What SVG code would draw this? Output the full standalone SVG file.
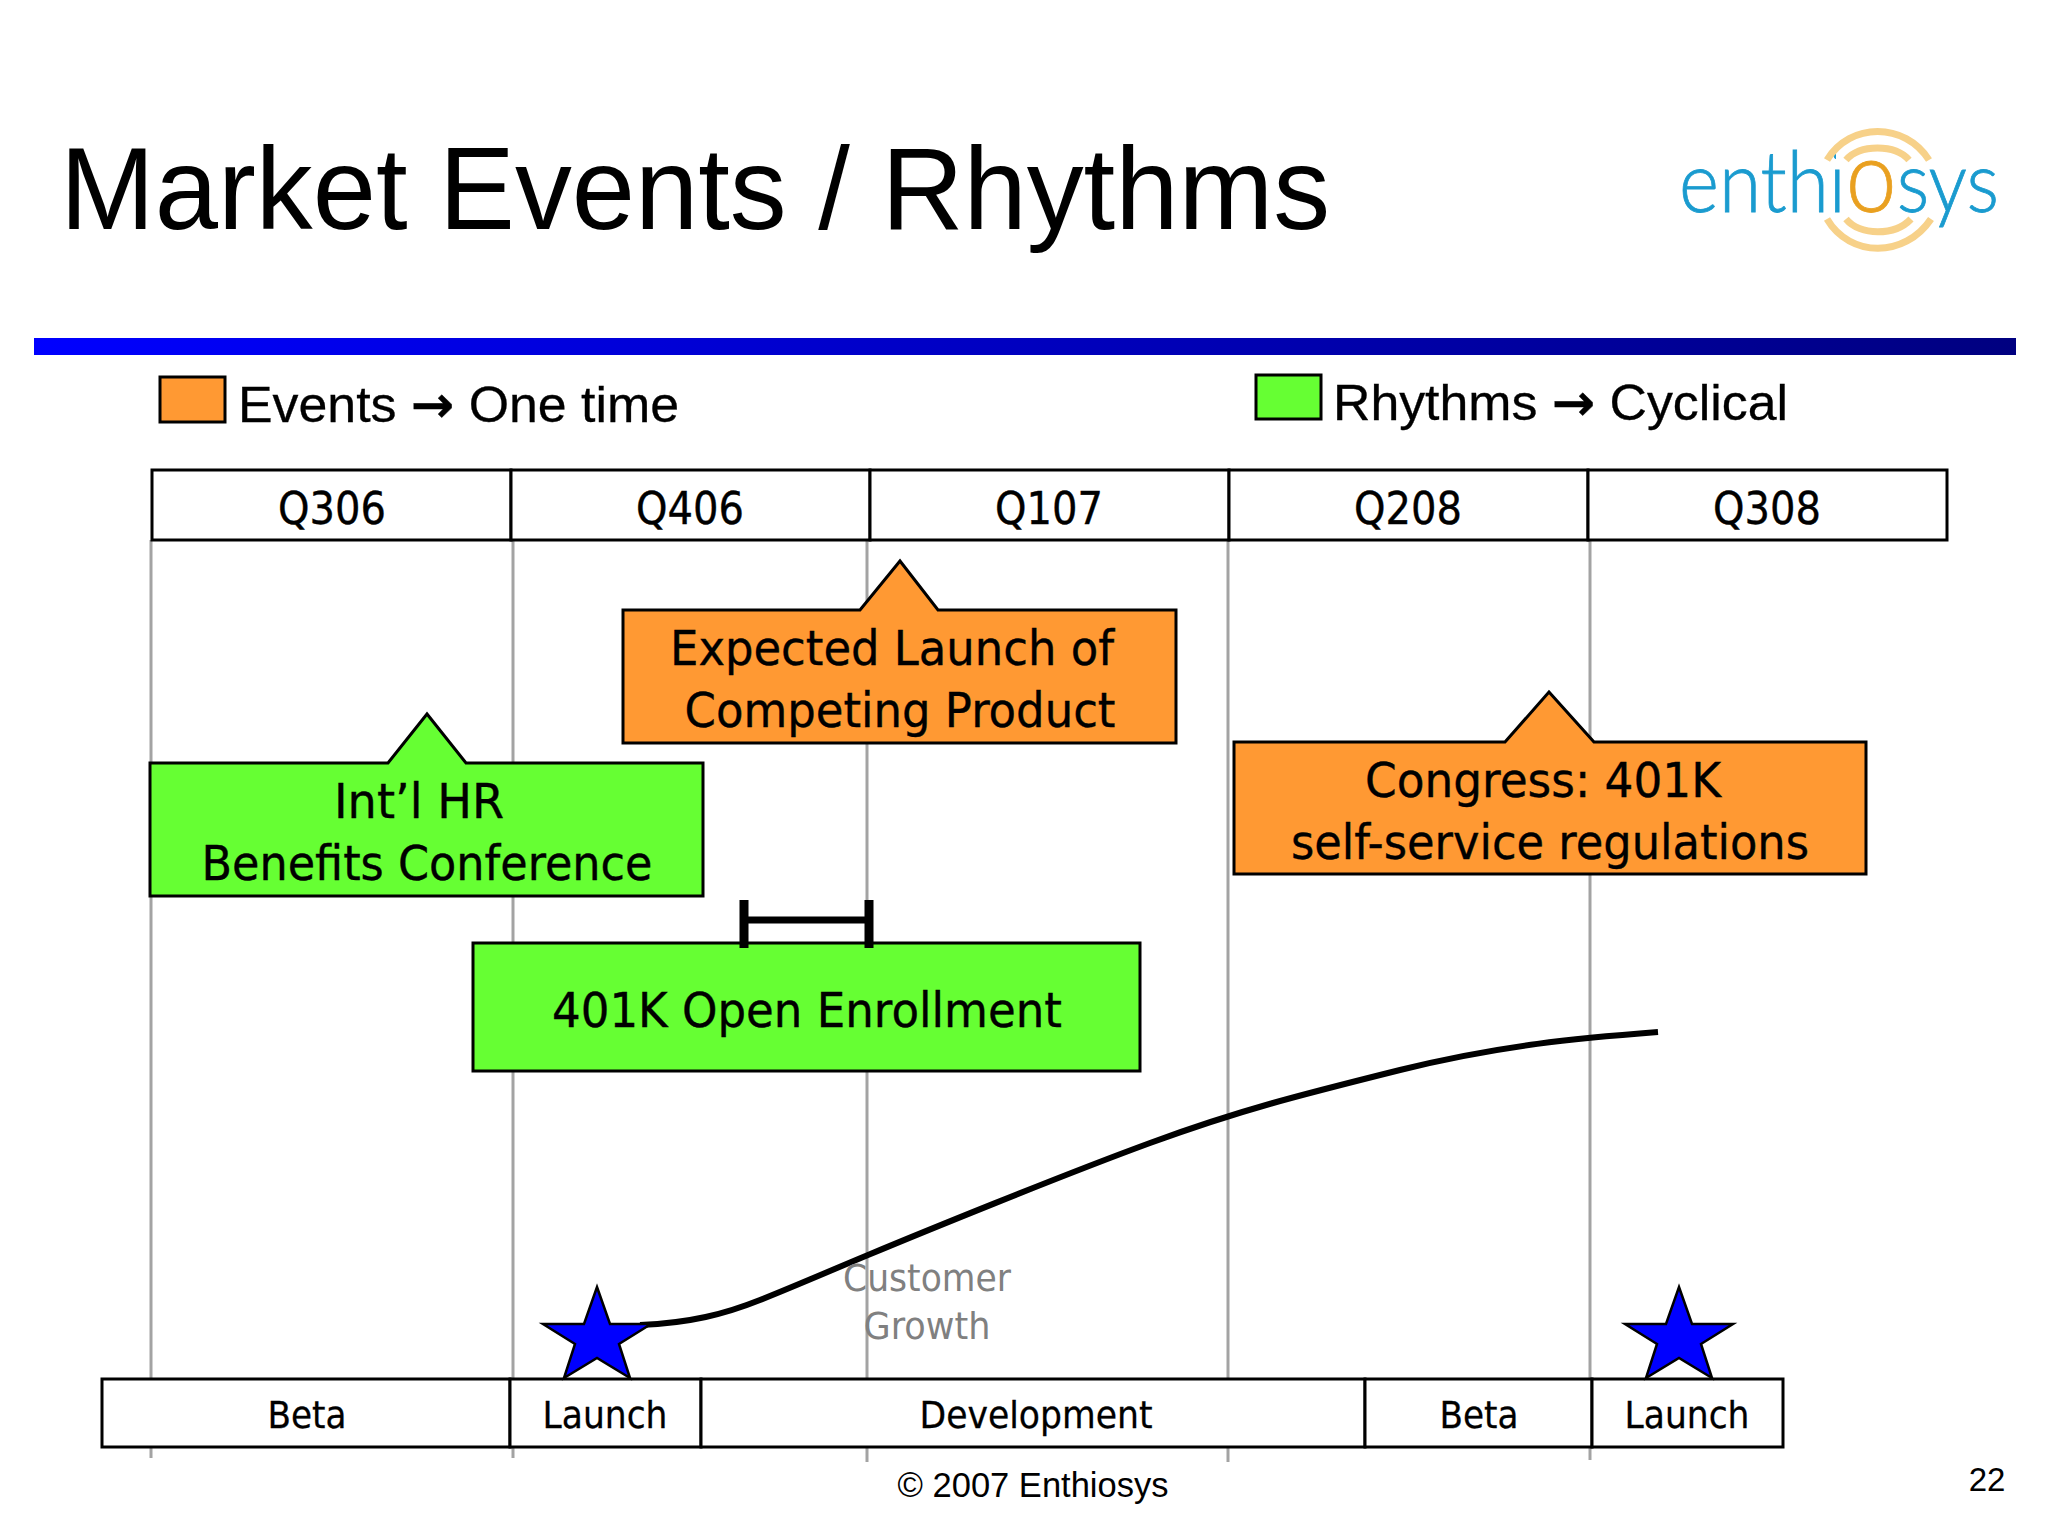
<svg xmlns="http://www.w3.org/2000/svg" width="2048" height="1536" viewBox="0 0 2048 1536">
<style>
text{font-family:"DejaVu Sans",Tahoma,sans-serif;fill:#000;text-anchor:middle}
.sans{font-family:"Liberation Sans",Arial,sans-serif}
.grid{stroke:#a3a3a3;stroke-width:3;fill:none}
.box{fill:#fff;stroke:#000;stroke-width:3}
.orange{fill:#ff9933;stroke:#000;stroke-width:3}
.green{fill:#66ff33;stroke:#000;stroke-width:3}
.star{fill:#0000ff;stroke:#000;stroke-width:2.5}
.t48{font-size:48px;stroke:#000;stroke-width:.4}
.t44{font-size:44px;stroke:#000;stroke-width:.4}
.t38{font-size:38px;stroke:#000;stroke-width:.3}
.legend{font-family:"Liberation Sans",Arial,sans-serif;font-size:50px;text-anchor:start;stroke:#000;stroke-width:.3}
.arrow{font-family:"DejaVu Sans",sans-serif;font-weight:bold}
.arc{fill:none;stroke:#f7d189;stroke-width:7}
</style>
<defs>
<linearGradient id="bar" x1="0" x2="1" y1="0" y2="0"><stop offset="0" stop-color="#0000ff"/><stop offset="1" stop-color="#000080"/></linearGradient>
<polygon id="starShape" points="0,0 13,37 54,37 22,57 33,91 0,71 -33,91 -22,57 -54,37 -13,37"/>
</defs>
<rect width="2048" height="1536" fill="#fff"/>
<text id="title" class="sans" x="60" y="229" font-size="116" style="text-anchor:start" textLength="1270" lengthAdjust="spacingAndGlyphs">Market Events / Rhythms</text>
<rect id="rule" x="34" y="338" width="1982" height="17" fill="url(#bar)"/>
<g id="logo">
<text x="1679" y="212" font-size="84" style="font-family:'Lato','Open Sans',sans-serif;font-weight:300;text-anchor:start;fill:#1a9bcf;stroke:#1a9bcf;stroke-width:.8" textLength="320" lengthAdjust="spacingAndGlyphs">enthi<tspan style="fill:#e9a020;stroke:#e9a020" font-size="100">o</tspan>sys</text>
<rect x="1836" y="140" width="16" height="22" fill="#fff"/>
<path class="arc" d="M1827,160 C1850,122 1905,122 1929,160"/>
<path class="arc" d="M1846,160 C1860,144 1895,144 1909,160"/>
<path class="arc" d="M1827,219 C1850,258 1905,258 1931,219"/>
<path class="arc" d="M1846,219 C1860,236 1895,236 1911,219"/>
</g>
<g id="connectors">
<path class="grid" d="M151,540V1458M513,540V1458M867,540V1462M1228,540V1462M1590,540V1460"/>
<path fill="none" stroke="#000" stroke-width="6" d="M640,1325C690,1323 725,1314 760,1300S820,1275 868,1255S1060,1176 1150,1143S1300,1095 1400,1070S1580,1038 1658,1032"/>
</g>
<g id="legend-events"><rect class="orange" x="160" y="377" width="65" height="45"/><text class="legend" x="238" y="422" textLength="441" lengthAdjust="spacingAndGlyphs">Events <tspan class="arrow">→</tspan> One time</text></g>
<g id="legend-rhythms"><rect class="green" x="1256" y="375" width="65" height="44"/><text class="legend" x="1333" y="420" textLength="455" lengthAdjust="spacingAndGlyphs">Rhythms <tspan class="arrow">→</tspan> Cyclical</text></g>
<g id="q306"><rect class="box" x="152" y="470" width="359" height="70"/><text class="t44" x="332" y="524" textLength="108" lengthAdjust="spacingAndGlyphs">Q306</text></g>
<g id="q406"><rect class="box" x="511" y="470" width="359" height="70"/><text class="t44" x="690" y="524" textLength="108" lengthAdjust="spacingAndGlyphs">Q406</text></g>
<g id="q107"><rect class="box" x="870" y="470" width="359" height="70"/><text class="t44" x="1049" y="524" textLength="108" lengthAdjust="spacingAndGlyphs">Q107</text></g>
<g id="q208"><rect class="box" x="1229" y="470" width="359" height="70"/><text class="t44" x="1408" y="524" textLength="108" lengthAdjust="spacingAndGlyphs">Q208</text></g>
<g id="q308"><rect class="box" x="1588" y="470" width="359" height="70"/><text class="t44" x="1767" y="524" textLength="108" lengthAdjust="spacingAndGlyphs">Q308</text></g>
<g id="competing"><path class="orange" d="M623,610H860L900,561L938,610H1176V743H623Z"/>
<text class="t48" x="892" y="665" textLength="444" lengthAdjust="spacingAndGlyphs">Expected Launch of</text><text class="t48" x="900" y="727" textLength="431" lengthAdjust="spacingAndGlyphs">Competing Product</text></g>
<g id="hr"><path class="green" d="M150,763H388L427,714L466,763H703V896H150Z"/>
<text class="t48" x="419" y="818" textLength="170" lengthAdjust="spacingAndGlyphs">Int’l HR</text><text class="t48" x="427" y="880" textLength="451" lengthAdjust="spacingAndGlyphs">Benefits Conference</text></g>
<g id="congress"><path class="orange" d="M1234,742H1505L1549,692L1594,742H1866V874H1234Z"/>
<text class="t48" x="1543" y="797" textLength="356" lengthAdjust="spacingAndGlyphs">Congress: 401K</text><text class="t48" x="1550" y="859" textLength="518" lengthAdjust="spacingAndGlyphs">self-service regulations</text></g>
<g id="enrollment"><rect class="green" x="473" y="943" width="667" height="128"/><text class="t48" x="807" y="1027" textLength="510" lengthAdjust="spacingAndGlyphs">401K Open Enrollment</text></g>
<g id="enrollment-span">
<path fill="none" stroke="#000" stroke-width="7" d="M743,920H869"/>
<path fill="none" stroke="#000" stroke-width="9" d="M744,900V948M869,900V948"/>
</g>
<g id="customer-growth"><text x="927" y="1291" font-size="38" style="fill:#808080" textLength="168" lengthAdjust="spacingAndGlyphs">Customer</text><text x="927" y="1339" font-size="38" style="fill:#808080" textLength="127" lengthAdjust="spacingAndGlyphs">Growth</text></g>
<g id="phase-beta1"><rect class="box" x="102" y="1379" width="408" height="68"/><text class="t38" x="307" y="1428" textLength="79" lengthAdjust="spacingAndGlyphs">Beta</text></g>
<g id="phase-launch1"><rect class="box" x="510" y="1379" width="191" height="68"/><text class="t38" x="605" y="1428" textLength="125" lengthAdjust="spacingAndGlyphs">Launch</text></g>
<g id="phase-dev"><rect class="box" x="701" y="1379" width="664" height="68"/><text class="t38" x="1036" y="1428" textLength="233" lengthAdjust="spacingAndGlyphs">Development</text></g>
<g id="phase-beta2"><rect class="box" x="1365" y="1379" width="227" height="68"/><text class="t38" x="1479" y="1428" textLength="79" lengthAdjust="spacingAndGlyphs">Beta</text></g>
<g id="phase-launch2"><rect class="box" x="1592" y="1379" width="191" height="68"/><text class="t38" x="1687" y="1428" textLength="125" lengthAdjust="spacingAndGlyphs">Launch</text></g>
<g id="star1"><use href="#starShape" class="star" x="597" y="1287"/></g>
<g id="star2"><use href="#starShape" class="star" x="1679" y="1287"/></g>
<text id="footer" class="sans" x="1033" y="1497" font-size="34.5">© 2007 Enthiosys</text>
<text id="page" class="sans" x="1987" y="1491" font-size="33">22</text>
</svg>
